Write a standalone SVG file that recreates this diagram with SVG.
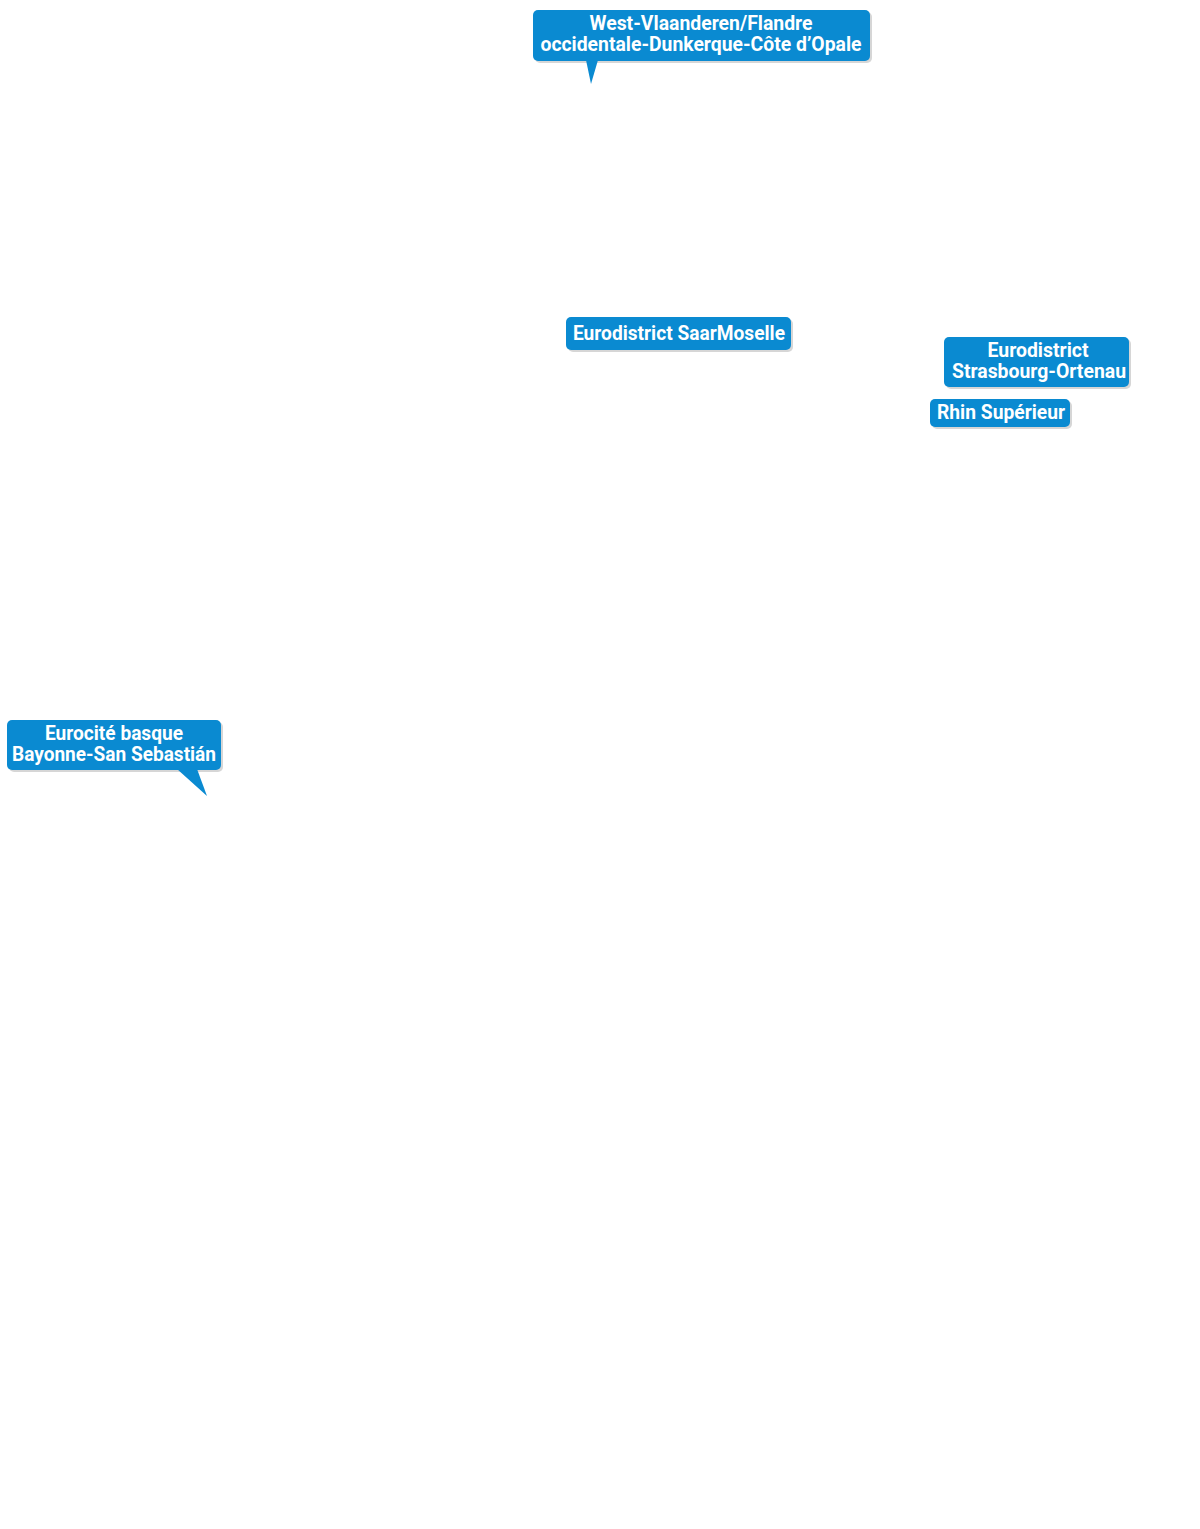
<svg xmlns="http://www.w3.org/2000/svg" width="1200" height="1529" viewBox="0 0 1200 1529">
<style>
.b{fill:#0a8ad1}
.s{fill:#d6d6d6}
.t{fill:#ffffff;font-family:"Roboto","Liberation Sans",sans-serif;font-weight:bold;font-size:20.5px;text-anchor:middle}
</style>
<rect width="1200" height="1529" fill="#ffffff"/>
<g id="west-vlaanderen">
<rect class="s" x="535" y="12" width="337" height="51" rx="5"/>
<rect class="b" x="533" y="10" width="337" height="51" rx="5"/>
<path class="b" d="M586,60 L598,60 L591,84 Z"/>
<text class="t" x="701" y="30" textLength="223" lengthAdjust="spacingAndGlyphs">West-Vlaanderen/Flandre</text>
<text class="t" x="701" y="51" textLength="321" lengthAdjust="spacingAndGlyphs">occidentale-Dunkerque-Côte d’Opale</text>
</g>
<g id="saarmoselle">
<rect class="s" x="568" y="319" width="225" height="33" rx="5"/>
<rect class="b" x="566" y="317" width="225" height="33" rx="5"/>
<text class="t" x="679" y="340" textLength="212" lengthAdjust="spacingAndGlyphs">Eurodistrict SaarMoselle</text>
</g>
<g id="strasbourg-ortenau">
<rect class="s" x="946" y="339" width="185" height="50" rx="5"/>
<rect class="b" x="944" y="337" width="185" height="50" rx="5"/>
<text class="t" x="1038" y="357" textLength="101" lengthAdjust="spacingAndGlyphs">Eurodistrict</text>
<text class="t" x="1039" y="378" textLength="174" lengthAdjust="spacingAndGlyphs">Strasbourg-Ortenau</text>
</g>
<g id="rhin-superieur">
<rect class="s" x="932" y="401" width="140" height="28" rx="5"/>
<rect class="b" x="930" y="399" width="140" height="28" rx="5"/>
<text class="t" x="1001" y="419" textLength="128" lengthAdjust="spacingAndGlyphs">Rhin Supérieur</text>
</g>
<g id="eurocite-basque">
<rect class="s" x="9" y="722" width="214" height="50" rx="5"/>
<rect class="b" x="7" y="720" width="214" height="50" rx="5"/>
<path class="b" d="M177,769 L197,769 L207,796 Z"/>
<text class="t" x="114" y="740" textLength="138" lengthAdjust="spacingAndGlyphs">Eurocité basque</text>
<text class="t" x="114" y="761" textLength="204" lengthAdjust="spacingAndGlyphs">Bayonne-San Sebastián</text>
</g>
<g id="connectors"></g>
</svg>
